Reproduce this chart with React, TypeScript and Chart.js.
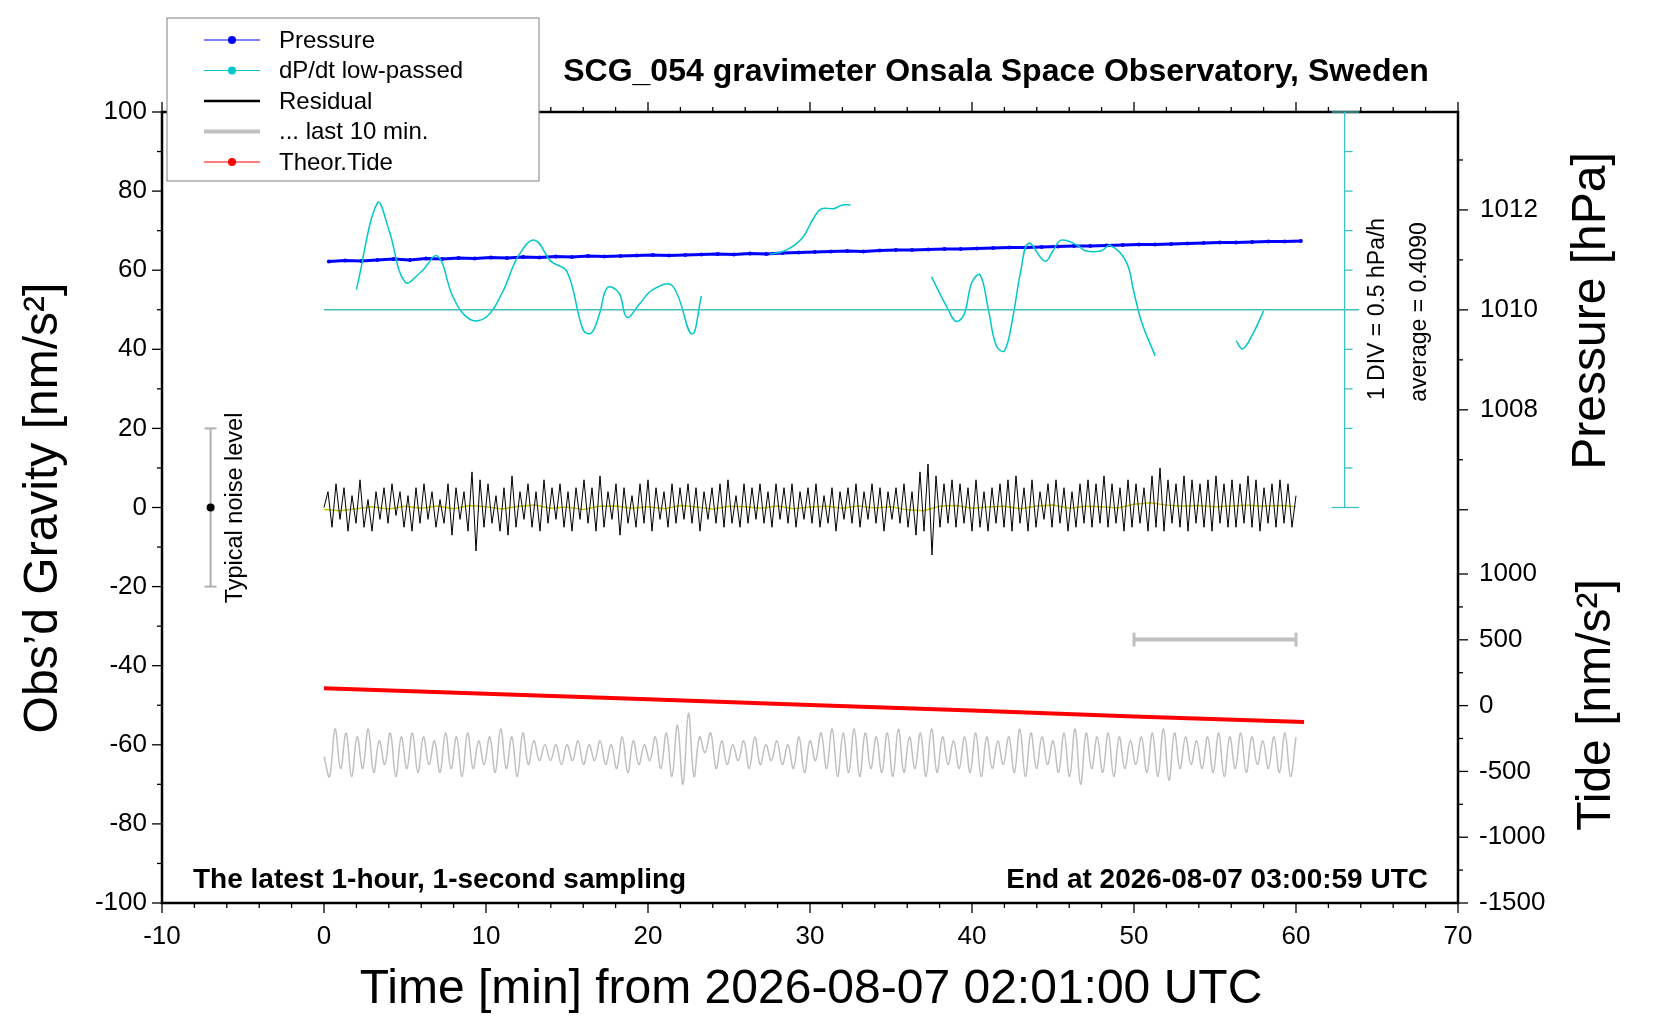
import React, { useEffect, useRef } from "react";
import { Chart, registerables } from "chart.js";
Chart.register(...registerables);

const FONT = "'Liberation Sans', Arial, sans-serif";

// Residual gravity [nm/s^2], sampled every 0.25 min from 0 to 60
const residualStr = "0 4 -5 6 -3 5 -6 3 -4 7 -5 2 -6 4 -3 5 -4 6 -2 4 -5 3 -6 5 -4 6 -3 4 -5 2 -4 6 -7 5 -3 4 -6 9 -11 7 -5 6 -4 3 -6 5 -7 8 -5 4 -3 6 -5 4 -6 7 -4 5 -3 6 -5 4 -6 5 -3 7 -4 5 -6 8 -5 4 -3 6 -7 5 -4 3 -5 6 -4 7 -6 5 -3 4 -5 6 -4 5 -3 6 -4 5 -6 4 -3 5 -4 6 -5 7 -4 3 -5 6 -4 5 -3 6 -4 4 -5 6 -3 5 -4 6 -5 4 -3 5 -4 6 -5 3 -4 5 -6 4 -3 5 -4 6 -5 4 -3 6 -4 5 -6 4 -3 5 -4 6 -5 4 -7 9 -6 11 -12 8 -5 6 -4 7 -5 6 -4 5 -6 7 -5 4 -6 5 -4 6 -5 7 -6 8 -4 5 -6 7 -5 4 -3 6 -5 7 -4 5 -6 4 -5 6 -4 7 -5 6 -4 8 -5 6 -4 5 -6 7 -5 6 -4 5 -6 8 -5 10 -6 7 -4 6 -5 8 -6 7 -4 6 -5 7 -6 8 -4 6 -5 7 -5 6 -4 8 -5 7 -6 5 -4 6 -5 7 -4 6 -5 3";
const residualValues = residualStr.split(" ").map(Number);

// Low-passed residual (yellow), every 1 min
const residualLP = [-0.5, -0.8, -0.3, 0.2, -0.4, 0.3, -0.2, 0.4, -0.3, 0.5, 0.2, -0.4, 0.3, 0.6, -0.2, 0.1, -0.5, 0.3, 0.4, -0.2, 0.2, -0.3, 0.5, 0.1, -0.4, 0.3, 0.2, -0.2, 0.4, -0.3, 0.1, 0.3, -0.2, 0.4, -0.1, 0.2, -0.6, -0.8, 0.3, 0.5, -0.2, 0.1, 0.3, -0.3, 0.4, 0.6, -0.2, 0.3, 0.2, -0.1, 0.8, 1.2, 0.6, 0.3, 0.5, 0.2, 0.4, 0.6, 0.3, 0.5, 0.2];

// "... last 10 min." grey trace [nm/s^2], every 0.3 min from 0 to 60
const greyStr = "-63 -68 -56 -66 -57 -68 -58 -66 -56 -67 -59 -65 -57 -68 -58 -66 -57 -67 -58 -65 -59 -67 -57 -66 -58 -68 -57 -66 -59 -65 -58 -67 -56 -66 -58 -68 -57 -65 -59 -64 -60 -64 -60 -65 -60 -64 -59 -65 -60 -64 -59 -65 -60 -66 -58 -67 -59 -65 -60 -64 -58 -66 -57 -68 -55 -70 -52 -68 -58 -62 -57 -66 -59 -65 -60 -64 -59 -66 -58 -65 -60 -64 -59 -65 -60 -66 -58 -67 -59 -64 -57 -66 -56 -68 -57 -67 -56 -68 -57 -66 -58 -67 -57 -68 -56 -67 -58 -66 -57 -68 -56 -67 -58 -65 -59 -66 -58 -67 -57 -68 -58 -66 -59 -65 -58 -67 -56 -68 -57 -66 -58 -65 -59 -67 -57 -68 -56 -70 -57 -66 -58 -67 -57 -68 -58 -66 -59 -65 -58 -67 -57 -68 -56 -69 -57 -66 -58 -65 -59 -66 -58 -67 -57 -68 -58 -66 -57 -67 -58 -65 -59 -66 -58 -67 -57 -68 -58";
const greyValues = greyStr.split(" ").map(Number);

// Pressure [hPa], every 1 min from 0.3 to 60.3
const pressureValues = [1010.97, 1010.99, 1010.98, 1011.0, 1011.02, 1011.0, 1011.03, 1011.02, 1011.04, 1011.03, 1011.05, 1011.04, 1011.06, 1011.05, 1011.07, 1011.06, 1011.08, 1011.07, 1011.08, 1011.09, 1011.1, 1011.09, 1011.1, 1011.11, 1011.12, 1011.11, 1011.13, 1011.12, 1011.14, 1011.15, 1011.16, 1011.17, 1011.18, 1011.17, 1011.19, 1011.2, 1011.2, 1011.21, 1011.22, 1011.22, 1011.23, 1011.24, 1011.25, 1011.25, 1011.26, 1011.27, 1011.28, 1011.28, 1011.29, 1011.3, 1011.31, 1011.31, 1011.32, 1011.33, 1011.34, 1011.35, 1011.35, 1011.36, 1011.37, 1011.37, 1011.38];

// dP/dt low-passed, plotted in gravity units (segments with gaps)
const dpdtTimes = [2, 3.3, 4, 5, 6, 7, 8, 9, 10, 11, 12, 13, 14, 15, 16, 16.5, 17, 17.5, 18.2, 18.7, 19.5, 20.3, 21.5, 22.7, 23.3, 25,
  27.5, 28.5, 29.5, 30.2, 30.7, 31.5, 32, 32.5, 35,
  37.5, 38.5, 39, 39.5, 40, 40.5, 41, 41.5, 42, 42.5, 43, 43.5, 44.5, 45, 45.5, 46.5, 47, 48, 48.5, 49.5, 50, 50.5, 51.3, 54,
  56.3, 56.7, 57.3, 58];
const dpdtValues = [55.1, 77.0, 70.3, 57.0, 59.6, 63.6, 52.9, 47.6, 48.1, 54.3, 63.6, 67.6, 62.3, 59.6, 44.9, 44.1, 48.9, 55.6, 54.3, 48.1, 51.6, 55.1, 56.1, 43.9, 53.5, null,
  64, 65, 68, 73, 75.5, 75.6, 76.5, 76.5, null,
  58.3, 50.3, 47.1, 48.7, 57.0, 58.8, 50.3, 40.9, 39.6, 47.6, 59.6, 66.8, 62.3, 64.9, 67.6, 66.3, 64.9, 64.9, 66.3, 62.3, 54.3, 46.5, 38.4, null,
  42.2, 40.1, 43.6, 49.7];

// Theoretical tide [nm/s^2]
const tideTimes = [0, 10, 20, 30, 40, 50, 60.5];
const tideValues = [132, 90, 48, 5, -38, -82, -125];

const xTicks = [-10, 0, 10, 20, 30, 40, 50, 60, 70];
const gravTicks = [100, 80, 60, 40, 20, 0, -20, -40, -60, -80, -100];
const pressTicks = [1008, 1010, 1012];
const tideTicks = [1000, 500, 0, -500, -1000, -1500];

const legendItems = [
  { label: "Pressure", color: "#0000ff", dot: true, w: 1 },
  { label: "dP/dt low-passed", color: "#00c8c8", dot: true, w: 1 },
  { label: "Residual", color: "#000000", dot: false, w: 2.5 },
  { label: "... last 10 min.", color: "#c0c0c0", dot: false, w: 4 },
  { label: "Theor.Tide", color: "#ff0000", dot: true, w: 1 },
];

export default function App() {
  const ref = useRef<HTMLCanvasElement>(null);
  useEffect(() => {
    document.body.style.margin = "0";
    const ctx = ref.current!.getContext("2d")!;
    const step = (n: number, span: number) => span / (n - 1);
    const rs = step(residualValues.length, 60);
    const gs = step(greyValues.length, 60);

    const deco = {
      id: "deco",
      afterDraw(c: any) {
        const g = c.ctx;
        const x = c.scales.x, y = c.scales.y, p = c.scales.p, t = c.scales.t;
        const a = c.chartArea;
        g.save();
        g.strokeStyle = "#000";
        g.fillStyle = "#000";
        g.lineWidth = 2.5;
        g.strokeRect(a.left, a.top, a.right - a.left, a.bottom - a.top);
        g.lineWidth = 1.3;
        const line = (x1: number, y1: number, x2: number, y2: number) => { g.beginPath(); g.moveTo(x1, y1); g.lineTo(x2, y2); g.stroke(); };
        for (let v = -10; v <= 70; v += 2) {
          const px = x.getPixelForValue(v);
          const L = v % 10 === 0 ? 10 : 5;
          line(px, a.bottom, px, a.bottom + L);
          line(px, a.top, px, a.top - L);
        }
        for (let v = -100; v <= 100; v += 10) {
          const py = y.getPixelForValue(v);
          line(a.left, py, a.left - (v % 20 === 0 ? 10 : 5), py);
        }
        for (let v = 1006; v <= 1013; v += 1) {
          const py = p.getPixelForValue(v);
          line(a.right, py, a.right + (v % 2 === 0 ? 10 : 5), py);
        }
        for (let v = -1500; v <= 1000; v += 250) {
          const py = t.getPixelForValue(v);
          line(a.right, py, a.right + (v % 500 === 0 ? 10 : 5), py);
        }
        g.font = `26px ${FONT}`;
        g.textBaseline = "middle";
        g.textAlign = "center";
        xTicks.forEach(v => g.fillText(String(v), x.getPixelForValue(v), a.bottom + 34));
        g.textAlign = "right";
        gravTicks.forEach(v => g.fillText(String(v), a.left - 15, y.getPixelForValue(v)));
        g.textAlign = "left";
        pressTicks.forEach(v => g.fillText(String(v), a.right + 22, p.getPixelForValue(v)));
        tideTicks.forEach(v => g.fillText(String(v), a.right + 21, t.getPixelForValue(v)));
        g.font = `48px ${FONT}`;
        g.textAlign = "center";
        g.fillText("Time [min] from 2026-08-07 02:01:00 UTC", 811, 990);
        const rot = (txt: string, cx: number, cy: number, font: string) => {
          g.save(); g.translate(cx, cy); g.rotate(-Math.PI / 2); g.font = font; g.textAlign = "center"; g.textBaseline = "middle"; g.fillText(txt, 0, 0); g.restore();
        };
        rot("Obs\u2019d Gravity [nm/s\u00b2]", 44, 508, `48px ${FONT}`);
        rot("Pressure [hPa]", 1592, 311, `48px ${FONT}`);
        rot("Tide [nm/s\u00b2]", 1597, 705, `48px ${FONT}`);
        rot("Typical noise level", 236, 508, `23.5px ${FONT}`);
        rot("1 DIV = 0.5 hPa/h", 1378, 309, `23px ${FONT}`);
        rot("average = 0.4090", 1420, 312, `23px ${FONT}`);
        g.font = `bold 32px ${FONT}`;
        g.fillText("SCG_054 gravimeter Onsala Space Observatory, Sweden", 996, 72);
        g.font = `bold 28px ${FONT}`;
        g.textAlign = "left";
        g.fillText("The latest 1-hour, 1-second sampling", 193, 880);
        g.textAlign = "right";
        g.fillText("End at 2026-08-07 03:00:59 UTC", 1428, 880);
        g.strokeStyle = "#40c0c0";
        g.lineWidth = 1.3;
        const sx = x.getPixelForValue(63);
        line(x.getPixelForValue(0), y.getPixelForValue(50), x.getPixelForValue(63.9), y.getPixelForValue(50));
        line(sx, y.getPixelForValue(0), sx, y.getPixelForValue(100));
        for (let v = 0; v <= 100; v += 10) {
          const py = y.getPixelForValue(v);
          if (v === 0 || v === 100) line(x.getPixelForValue(62.2), py, x.getPixelForValue(63.9), py);
          else if (v !== 50) line(sx, py, sx + 8, py);
        }
        g.strokeStyle = "#b0b0b0";
        g.lineWidth = 2;
        const nx = x.getPixelForValue(-7);
        line(nx, y.getPixelForValue(-20), nx, y.getPixelForValue(20));
        line(nx - 6, y.getPixelForValue(-20), nx + 6, y.getPixelForValue(-20));
        line(nx - 6, y.getPixelForValue(20), nx + 6, y.getPixelForValue(20));
        g.fillStyle = "#000";
        g.beginPath(); g.arc(nx, y.getPixelForValue(0), 4, 0, Math.PI * 2); g.fill();
        g.strokeStyle = "#c0c0c0";
        g.lineWidth = 4;
        const by = y.getPixelForValue(-33.4);
        line(x.getPixelForValue(50), by, x.getPixelForValue(60), by);
        g.lineWidth = 3;
        line(x.getPixelForValue(50), by - 7, x.getPixelForValue(50), by + 7);
        line(x.getPixelForValue(60), by - 7, x.getPixelForValue(60), by + 7);
        g.fillStyle = "#fff";
        g.fillRect(167, 18, 372, 163);
        g.strokeStyle = "#808080";
        g.lineWidth = 1;
        g.strokeRect(167, 18, 372, 163);
        g.font = `24px ${FONT}`;
        g.textAlign = "left";
        legendItems.forEach((it, i) => {
          const ly = 40 + i * 30.5;
          g.strokeStyle = it.color; g.lineWidth = it.w;
          line(204, ly, 260, ly);
          if (it.dot) { g.fillStyle = it.color; g.beginPath(); g.arc(232, ly, 4, 0, Math.PI * 2); g.fill(); }
          g.fillStyle = "#000";
          g.fillText(it.label, 279, ly + 1);
        });
        g.restore();
      },
    };

    const chart = new Chart(ctx, {
      type: "line",
      data: {
        datasets: [
          { label: "dpdt", data: dpdtTimes.map((t, i) => ({ x: t, y: dpdtValues[i] })), borderColor: "#00c8c8", borderWidth: 1.5, pointRadius: 0, spanGaps: false, tension: 0.4, yAxisID: "y" },
          { label: "grey", data: greyValues.map((v, i) => ({ x: i * gs, y: v })), borderColor: "#c0c0c0", borderWidth: 1.5, pointRadius: 0, tension: 0.4, yAxisID: "y" },
          { label: "resid", data: residualValues.map((v, i) => ({ x: i * rs, y: v })), borderColor: "#000", borderWidth: 1, pointRadius: 0, yAxisID: "y" },
          { label: "lp", data: residualLP.map((v, i) => ({ x: i, y: v })), borderColor: "#c8c800", borderWidth: 1.5, pointRadius: 0, yAxisID: "y" },
          { label: "pressure", data: pressureValues.map((v, i) => ({ x: 0.3 + i, y: v })), borderColor: "#0000ff", backgroundColor: "#0000ff", borderWidth: 3, pointRadius: 2, pointBorderWidth: 0, yAxisID: "p" },
          { label: "tide", data: tideTimes.map((t, i) => ({ x: t, y: tideValues[i] })), borderColor: "#ff0000", borderWidth: 4, pointRadius: 0, yAxisID: "t" },
        ],
      },
      options: {
        responsive: false,
        animation: false,
        layout: { padding: { left: 162, right: 202, top: 112, bottom: 117 } },
        plugins: { legend: { display: false }, tooltip: { enabled: false } },
        scales: {
          x: { type: "linear", min: -10, max: 70, display: false },
          y: { type: "linear", min: -100, max: 100, display: false },
          p: { type: "linear", min: 998.13, max: 1013.96, display: false },
          t: { type: "linear", min: -1500, max: 4511, display: false },
        },
      },
      plugins: [deco],
    });
    return () => chart.destroy();
  }, []);
  return <canvas ref={ref} width={1660} height={1020} style={{ display: "block", width: 1660, height: 1020 }} />;
}
